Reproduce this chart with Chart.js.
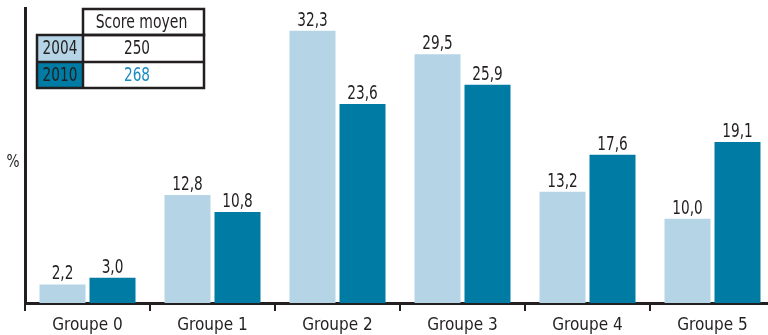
<!DOCTYPE html>
<html>
<head>
<meta charset="utf-8">
<script src="https://cdn.jsdelivr.net/npm/chart.js@4/dist/chart.umd.min.js"></script>
<style>
  html, body { margin: 0; padding: 0; background: #fff; overflow: hidden; }
  #wrap { position: relative; width: 776px; height: 335px; }
</style>
</head>
<body>
<div id="wrap"><canvas id="chart"></canvas></div>
<script>
// data
const groups = ['Groupe 0', 'Groupe 1', 'Groupe 2', 'Groupe 3', 'Groupe 4', 'Groupe 5'];
const years = ['2004', '2010'];
const scores = ['250', '268'];
const values2004 = [2.2, 12.8, 32.3, 29.5, 13.2, 10.0];
const values2010 = [3.0, 10.8, 23.6, 25.9, 17.6, 19.1];

const FONT = '"Liberation Sans Narrow", "DejaVu Sans Condensed", "Arial Narrow", sans-serif';
const LIGHT = '#b5d5e6';
const DARK = '#007ba4';
const INK = '#231f20';

// condensed look: draw with a bigger font squeezed horizontally
function narrowText(ctx, text, x, y, size, sx) {
    ctx.save();
    ctx.translate(x, y);
    ctx.scale(sx, 1);
    ctx.font = size + 'px ' + FONT;
    ctx.fillText(text, 0, 0);
    ctx.restore();
}

// value labels above each bar
const barLabels = {
    id: 'barLabels',
    afterDatasetsDraw(chart) {
        const ctx = chart.ctx;
        ctx.save();
        ctx.fillStyle = INK;
        ctx.textAlign = 'center';
        ctx.textBaseline = 'alphabetic';
        chart.data.datasets.forEach((ds, i) => {
            chart.getDatasetMeta(i).data.forEach((bar, j) => {
                narrowText(ctx, ds.data[j].toFixed(1).replace('.', ','), bar.x, bar.y - 5, 19, 0.8);
            });
        });
        // axis unit
        ctx.textBaseline = 'middle';
        narrowText(ctx, '%', 13, 162, 18, 0.85);
        ctx.restore();
    }
};

// little score table used as legend
const scoreTable = {
    id: 'scoreTable',
    afterDraw(chart) {
        const ctx = chart.ctx;
        const x0 = 37, x1 = 83, x2 = 204;
        const rows = [9, 35, 62, 88];
        ctx.save();
        ctx.textAlign = 'center';
        ctx.textBaseline = 'middle';
        ctx.fillStyle = LIGHT;
        ctx.fillRect(x0, rows[1], x1 - x0, rows[2] - rows[1]);
        ctx.fillStyle = DARK;
        ctx.fillRect(x0, rows[2], x1 - x0, rows[3] - rows[2]);
        ctx.strokeStyle = INK;
        ctx.lineWidth = 2.5;
        ctx.strokeRect(x1, rows[0], x2 - x1, rows[1] - rows[0]);
        ctx.strokeRect(x0, rows[1], x2 - x0, rows[3] - rows[1]);
        ctx.beginPath();
        ctx.moveTo(x0, rows[2]); ctx.lineTo(x2, rows[2]);
        ctx.moveTo(x1, rows[1]); ctx.lineTo(x1, rows[3]);
        ctx.stroke();
        ctx.fillStyle = INK;
        narrowText(ctx, 'Score moyen', (x1 + x2) / 2 - 2, (rows[0] + rows[1]) / 2 + 1, 19, 0.82);
        for (let i = 0; i < years.length; i++) {
            const cy = (rows[i + 1] + rows[i + 2]) / 2 + 1;
            ctx.fillStyle = INK;
            narrowText(ctx, years[i], (x0 + x1) / 2, cy, 19, 0.8);
            ctx.fillStyle = i === 1 ? '#1a8cc0' : INK;
            narrowText(ctx, scores[i], 137, cy, 19, 0.8);
        }
        ctx.restore();
    }
};

new Chart(document.getElementById('chart'), {
    type: 'bar',
    data: {
        labels: groups,
        datasets: [
            { label: years[0], data: values2004, backgroundColor: LIGHT },
            { label: years[1], data: values2010, backgroundColor: DARK }
        ]
    },
    options: {
        responsive: true,
        maintainAspectRatio: false,
        animation: false,
        layout: { padding: { top: 8, right: 1, left: 0, bottom: 0 } },
        datasets: { bar: { categoryPercentage: 0.8, barPercentage: 0.92 } },
        plugins: { legend: { display: false }, tooltip: { enabled: false } },
        scales: {
            x: {
                grid: { display: true, drawOnChartArea: false, drawTicks: true, tickLength: 8, color: INK, lineWidth: 2 },
                border: { display: true, color: INK, width: 3 },
                ticks: { color: INK, font: { family: FONT, size: 17 }, padding: 4 },
                afterFit(scale) { scale.height = 32; }
            },
            y: {
                min: 0,
                max: 35,
                grid: { display: false },
                border: { display: true, color: INK, width: 3 },
                ticks: { display: false },
                afterFit(scale) { scale.width = 25; }
            }
        }
    },
    plugins: [barLabels, scoreTable]
});
</script>
</body>
</html>
